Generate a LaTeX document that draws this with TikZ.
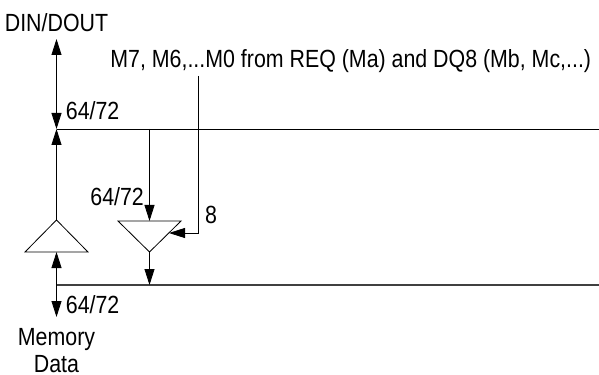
\documentclass[tikz,border=0pt]{standalone}
\usepackage{fontspec}
\setmainfont[FakeStretch=0.86]{Liberation Sans}
\usetikzlibrary{arrows.meta}
\tikzset{
  tip/.style={-{Triangle[length=16*0.03cm,width=10*0.03cm]}},
  tiptwo/.style={{Triangle[length=16*0.03cm,width=10*0.03cm]}-{Triangle[length=16*0.03cm,width=10*0.03cm]}},
  lbl/.style={inner sep=0pt,anchor=base west,font=\fontsize{21.2pt}{25pt}\selectfont},
  ctr/.style={inner sep=0pt,anchor=base,font=\fontsize{21.2pt}{25pt}\selectfont},
  wire/.style={line width=0.7pt},
}
\begin{document}
\begin{tikzpicture}[x=0.03cm,y=-0.03cm,wire]
  \useasboundingbox (0,0) rectangle (599,375);

  \coordinate (din) at (56.5,39);
  \coordinate (topbus) at (56.5,129);
  \coordinate (topend) at (599,129);
  \coordinate (botbus) at (56.5,285);
  \coordinate (botend) at (599,285);
  \coordinate (memdata) at (56.5,317);
  \coordinate (tapin) at (149.5,129);
  \coordinate (tapout) at (149.5,285);
  \coordinate (mstart) at (198,76);
  \coordinate (mbend) at (198,233);

  % triangles
  \coordinate (wtop) at (56.5,220);
  \coordinate (wbase) at (56.5,252);
  \draw[] (wtop)--(88,252)--(25,252)--cycle;
  \coordinate (rtop) at (149.5,221);
  \coordinate (rtip) at (149.5,252);
  \coordinate (rside) at (169,233);
  \draw[] (118,221)--(181,221)--(rtip)--cycle;

  % buses
  \draw[] (topbus)--(topend);
  \draw[line width=0.9pt,black!75] (botbus)--(botend);

  % arrows
  \draw[tiptwo] (din)--(topbus);
  \draw[tip] (wtop)--(topbus);
  \draw[tiptwo] (wbase)--(memdata);
  \draw[tip] (tapin)--(rtop);
  \draw[tip] (rtip)--(tapout);
  \draw[tip] (mstart)--(mbend)--(rside);

  % labels
  \node[ctr] (dinlbl) at (56.5,32) {DIN/DOUT};
  \node[lbl] (mlbl) at (110,68) {M7, M6,...M0 from REQ (Ma) and DQ8 (Mb, Mc,...)};
  \node[lbl] (toplbl) at (65.5,120) {64/72};
  \node[lbl] (tapbl) at (90,206) {64/72};
  \node[ctr] (eightlbl) at (211,224) {8};
  \node[lbl] (botlbl) at (65.5,313) {64/72};
  \node[ctr] (memlbl) at (56.5,345) {Memory};
  \node[ctr] (datalbl) at (56.5,372.5) {Data};
\end{tikzpicture}
\end{document}
